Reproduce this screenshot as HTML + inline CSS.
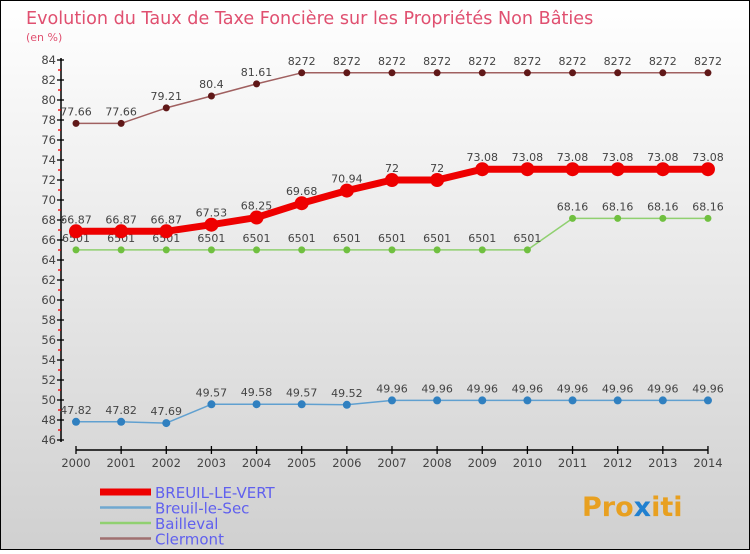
<!DOCTYPE html>
<html><head><meta charset="utf-8"><style>
html,body{margin:0;padding:0}
body{width:750px;height:550px;overflow:hidden;font-family:"DejaVu Sans","Liberation Sans",sans-serif}
</style></head><body>
<svg id="chart" width="750" height="550" xmlns="http://www.w3.org/2000/svg">
<defs><linearGradient id="bg" x1="0" y1="0" x2="0" y2="1"><stop offset="0" stop-color="#ffffff"/><stop offset="1" stop-color="#d0d0d0"/></linearGradient></defs>
<rect x="0.5" y="0.5" width="749" height="549" fill="url(#bg)" stroke="#000" stroke-width="1"/>
<text x="26" y="24" font-size="17.6" fill="#e05070" font-family="DejaVu Sans,sans-serif">Evolution du Taux de Taxe Foncière sur les Propriétés Non Bâties</text>
<text x="26" y="41" font-size="11" fill="#e05070">(en %)</text>
<g id="axes"></g>
<g id="series"></g>
<g id="legend"></g>
<text x="582" y="516" font-size="27" font-weight="bold" fill="#e8a020" font-family="DejaVu Sans,sans-serif">Pro<tspan fill="#2080d0">x</tspan>iti</text>
</svg>
<script>
const years=[2000,2001,2002,2003,2004,2005,2006,2007,2008,2009,2010,2011,2012,2013,2014];
const breuilVert=[66.87,66.87,66.87,67.53,68.25,69.68,70.94,72,72,73.08,73.08,73.08,73.08,73.08,73.08];
const breuilSec=[47.82,47.82,47.69,49.57,49.58,49.57,49.52,49.96,49.96,49.96,49.96,49.96,49.96,49.96,49.96];
const bailleval=[65.01,65.01,65.01,65.01,65.01,65.01,65.01,65.01,65.01,65.01,65.01,68.16,68.16,68.16,68.16];
const clermont=[77.66,77.66,79.21,80.4,81.61,82.72,82.72,82.72,82.72,82.72,82.72,82.72,82.72,82.72,82.72];
const yTicks=[46,48,50,52,54,56,58,60,62,64,66,68,70,72,74,76,78,80,82,84];
const seriesNames=["BREUIL-LE-VERT","Breuil-le-Sec","Bailleval","Clermont"];
const NS="http://www.w3.org/2000/svg";
const xs=i=>76+i*45.14;
const ys=v=>60+(84-v)*10;
function mk(tag,attrs,parent,txt){const e=document.createElementNS(NS,tag);for(const k in attrs)e.setAttribute(k,attrs[k]);if(txt!==undefined)e.textContent=txt;parent.appendChild(e);return e;}
const axes=document.getElementById('axes');
let a=mk('line',{x1:61,y1:58,x2:61,y2:442,stroke:'#000','stroke-width':1.5},axes);


for(let v=46;v<=84;v++){
  const odd=v%2!==0;
  mk('line',{x1:odd?58:57,y1:ys(v),x2:odd?61:64,y2:ys(v),stroke:odd?'#e00':'#000','stroke-width':1.3},axes);
}
yTicks.forEach(v=>{const t=mk('text',{x:56,y:ys(v)+4,'font-size':11.5,'text-anchor':'end',fill:'#444'},axes,v);

});
let xa=mk('line',{x1:xs(0),y1:450,x2:xs(years.length-1),y2:450,stroke:'#000','stroke-width':1.5},axes);


years.forEach((y,i)=>{mk('line',{x1:xs(i),y1:446,x2:xs(i),y2:454,stroke:'#000','stroke-width':1.3},axes);
const t=mk('text',{x:xs(i),y:467,'font-size':11.5,'text-anchor':'middle',fill:'#444'},axes,y);

});
const sg=document.getElementById('series');
const fmt2=v=>String(v);
function draw(data,name,color,dot,w,r,lblFn){
  const g=mk('g',{},sg);
  
  
  const pts=data.map((v,i)=>xs(i)+','+ys(v)).join(' ');
  mk('polyline',{points:pts,fill:'none',stroke:color,'stroke-width':w,'stroke-linejoin':'round'},g);
  data.forEach((v,i)=>{const c=mk('circle',{cx:xs(i),cy:ys(v),r:r,fill:dot},g);
    
    
    const t=mk('text',{x:xs(i),y:ys(v)-8,'font-size':11,'text-anchor':'middle',fill:'#444'},g,lblFn(v));
    
    });
}
draw(bailleval,'series-bailleval','#90d070','#70c040',1.5,3.5,v=>v===65.01?'6501':String(v));
draw(breuilSec,'series-breuil-le-sec','#60a0d0','#3080c0',1.5,4,fmt2);
draw(clermont,'series-clermont','#a06060','#601818',1.5,3.5,v=>v===82.72?'8272':String(v));
draw(breuilVert,'series-breuil-le-vert','#ee0000','#ee0000',7,7,fmt2);
const lg=document.getElementById('legend');
const lc=['#ee0000','#70a8d0','#90d070','#a07070'];
const lw=[7,2.5,2.5,2.5];
seriesNames.forEach((n,i)=>{const y=492+i*15.5;
  const g=mk('g',{},lg);
  
  
  mk('line',{x1:100,y1:y,x2:151,y2:y,stroke:lc[i],'stroke-width':lw[i]},g);
  mk('text',{x:155,y:y+6,'font-size':15,fill:'#6060ee'},g,n);});
</script>
</body></html>
